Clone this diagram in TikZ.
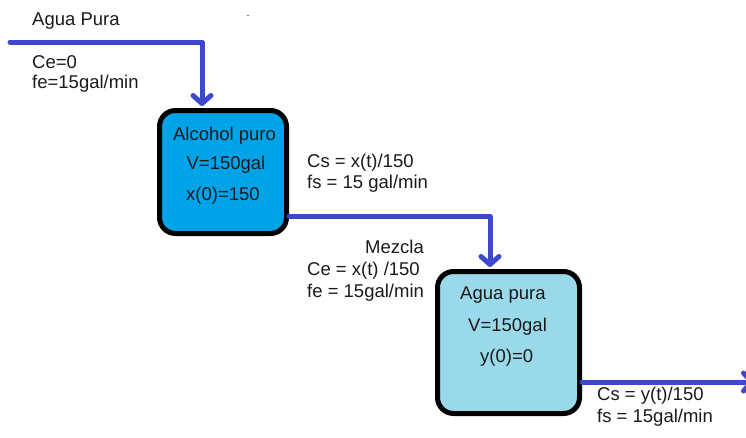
\documentclass[tikz,border=0pt]{standalone}
\usepackage{fontspec}
\setmainfont{Liberation Sans}
\usetikzlibrary{arrows.meta}
\definecolor{pipeblue}{HTML}{3F48CC}
\definecolor{tankA}{HTML}{00A2E8}
\definecolor{tankB}{HTML}{99D9EA}
\definecolor{ink}{HTML}{1A1A1A}
\begin{document}
\begin{tikzpicture}[x=1pt,y=-1pt,
  tank/.style={draw=black, line width=5pt, rounded corners=16pt, inner sep=0pt, outer sep=2.5pt},
  pipe/.style={draw=pipeblue, line width=5pt, line cap=round, line join=round,
    -{Straight Barb[length=8pt,width=18pt,round]}},
  lbl/.style={anchor=base west, inner sep=0pt, text=ink, font=\fontsize{18.5}{20}\selectfont},
  ctr/.style={anchor=base, inner sep=0pt, text=ink, font=\fontsize{18.5}{20}\selectfont}]
\useasboundingbox (0,0) rectangle (746,437);

% tanks
\node[tank, fill=tankA, minimum width=127pt, minimum height=123pt] (t1) at (223,172) {};
\node[tank, fill=tankB, minimum width=142pt, minimum height=142pt] (t2) at (508.5,342.5) {};

% pipe end points
\coordinate (in1) at (10,42);
\coordinate (d1) at (202,108);
\coordinate (o1) at (t1.east |- 0,216);
\coordinate (d2) at (490,269);
\coordinate (o2) at (t2.east |- 0,382);
\coordinate (out2) at (754,382);

% pipes
\draw[pipe] (in1) -| ([yshift=2pt]t1.north -| d1);
\draw[pipe] (o1) -| ([yshift=2pt]t2.north -| d2);
\draw[pipe] (o2) -- (out2);

% labels on the inlet
\node[lbl] (agua) at (32,25) {Agua Pura};
\node[lbl] (ce0) at (32,68) {Ce=0};
\node[lbl] (fe0) at (32,88) {fe=15gal/min};

% first tank
\node[ctr] (t1a) at (224.5,140) {Alcohol puro};
\node[ctr] (t1b) at (226,169) {V=150gal};
\node[ctr] (t1c) at (223,200) {x(0)=150};

% between tanks
\node[lbl] (cs1) at (307,167) {Cs = x(t)/150};
\node[lbl] (fs1) at (307,188) {fs = 15 gal/min};
\node[lbl] (mez) at (365,253) {Mezcla};
\node[lbl] (ce1) at (307,275) {Ce = x(t) /150};
\node[lbl] (fe1) at (307,297) {fe = 15gal/min};

% second tank
\node[lbl] (t2a) at (460,299) {Agua pura};
\node[lbl] (t2b) at (468,331) {V=150gal};
\node[lbl] (t2c) at (480,362) {y(0)=0};

% outlet
\node[lbl] (cs2) at (597,400) {Cs = y(t)/150};
\node[lbl] (fs2) at (597,422) {fs = 15gal/min};

% small stray mark
\fill[gray] (246.5,14.5) rectangle (248.5,16);
\end{tikzpicture}
\end{document}
